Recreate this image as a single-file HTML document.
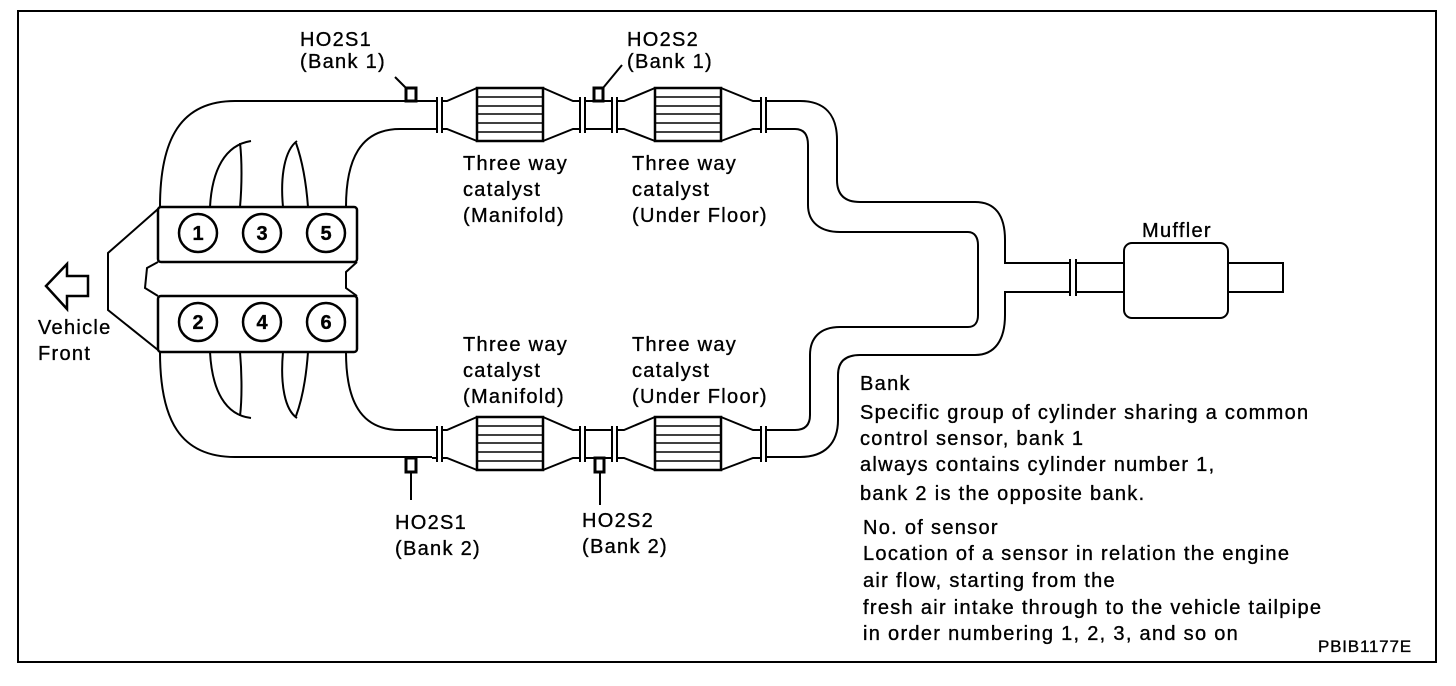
<!DOCTYPE html>
<html><head><meta charset="utf-8"><style>
html,body{margin:0;padding:0;background:#fff;}
svg{display:block;}
text{font-family:"Liberation Sans",Arial,sans-serif;font-size:20px;letter-spacing:1.3px;fill:#000;stroke:#000;stroke-width:0.35;}
.n{font-weight:bold;font-size:20px;letter-spacing:0;text-anchor:middle;}
</style></head><body>
<svg width="1456" height="686" viewBox="0 0 1456 686" xmlns="http://www.w3.org/2000/svg">
<rect x="18" y="11" width="1418" height="651" fill="none" stroke="#000" stroke-width="2"/>
<g fill="none" stroke="#000" stroke-width="2">
<path d="M160,207 C160,140 180,101 235,101 L432,101"/>
<path d="M346,207 C346,160 360,129 400,129 L432,129"/>
<path d="M160,352 C160,420 180,457 235,457 L432,457"/>
<path d="M346,352 C346,400 360,430 400,430 L432,430"/>
<path d="M210,207 C212,170 225,145 251,141"/>
<path d="M240,207 C242,185 242,160 240,143"/>
<path d="M283,207 C280,175 285,150 297,141"/>
<path d="M308,207 C306,180 302,160 296,143"/>
<path d="M210,352 C212,390 225,415 251,418"/>
<path d="M240,352 C242,375 242,400 240,416"/>
<path d="M283,352 C280,385 285,410 297,418"/>
<path d="M308,352 C306,380 302,400 296,416"/>
<path d="M158,209 L108,253 L108,310 L158,350" />
<rect x="158" y="207" width="199" height="55" rx="3" fill="#fff" stroke-width="2.5"/>
<rect x="158" y="296" width="199" height="56" rx="3" fill="#fff" stroke-width="2.5"/>
<path d="M158,262 L147,268 L145,288 L158,296" />
<path d="M357,262 L346,272 L346,288 L357,296" />
<g stroke-width="2.5">
<circle cx="198" cy="233" r="19"/><circle cx="262" cy="233" r="19"/><circle cx="326" cy="233" r="19"/>
<circle cx="198" cy="322" r="19"/><circle cx="262" cy="322" r="19"/><circle cx="326" cy="322" r="19"/>
</g>
<path d="M46,286 L67,264 L67,276 L88,276 L88,296 L67,296 L67,309 Z" stroke-width="2.5"/>
</g>
<text class="n" x="198" y="240">1</text><text class="n" x="262" y="240">3</text><text class="n" x="326" y="240">5</text>
<text class="n" x="198" y="329">2</text><text class="n" x="262" y="329">4</text><text class="n" x="326" y="329">6</text>
<g id="row" fill="none" stroke="#000" stroke-width="2">
<path d="M432,101 L437,101 M432,129 L437,129"/>
<path d="M437,97 L437,133 M442,97 L442,133"/>
<path d="M442,101 L447,101 L477,88 M442,129 L447,129 L477,141"/>
<rect x="477" y="88" width="66" height="53" stroke-width="2.5"/>
<path d="M477,97 H543 M477,106 H543 M477,114 H543 M477,123 H543 M477,132 H543" stroke-width="1.5"/>
<path d="M543,88 L573,101 L580,101 M543,141 L573,129 L580,129"/>
<path d="M580,97 L580,133 M585,97 L585,133"/>
<path d="M585,101 H612 M585,129 H612"/>
<path d="M612,97 L612,133 M617,97 L617,133"/>
<path d="M617,101 L624,101 L655,88 M617,129 L624,129 L655,141"/>
<rect x="655" y="88" width="66" height="53" stroke-width="2.5"/>
<path d="M655,97 H721 M655,106 H721 M655,114 H721 M655,123 H721 M655,132 H721" stroke-width="1.5"/>
<path d="M721,88 L753,101 L761,101 M721,141 L753,129 L761,129"/>
<path d="M761,97 L761,133 M766,97 L766,133"/>
</g>
<use href="#row" transform="translate(0,329)"/>
<g fill="none" stroke="#000" stroke-width="2">
<path d="M766,101 L800,101 C825,101 837,115 837,140 L837,180 C837,195 845,202 860,202 L975,202 C995,202 1005,215 1005,240 L1005,263 L1070,263"/>
<path d="M766,129 L795,129 C804,129 808,135 808,145 L808,205 C808,222 820,232 840,232 L968,232 C975,232 978,238 978,245 L978,315 C978,322 975,327 968,327 L840,327 C820,327 810,338 810,355 L810,415 C810,425 805,430 795,430 L766,430"/>
<path d="M766,457 L800,457 C825,457 838,443 838,420 L838,375 C838,362 845,355 860,355 L975,355 C995,355 1005,340 1005,315 L1005,292 L1070,292"/>
<path d="M1070,259 L1070,296 M1076,259 L1076,296"/>
<path d="M1076,263 H1124 M1076,292 H1124"/>
<rect x="1124" y="243" width="104" height="75" rx="8"/>
<path d="M1228,263 H1283 V292 H1228"/>
<rect x="406" y="88" width="10" height="13" stroke-width="3"/>
<path d="M406,88 L395,77"/>
<rect x="594" y="88" width="9" height="13" stroke-width="3"/>
<path d="M603,88 L622,65"/>
<rect x="406" y="458" width="10" height="14" stroke-width="3"/>
<path d="M411,472 L411,500"/>
<rect x="595" y="458" width="9" height="14" stroke-width="3"/>
<path d="M600,472 L600,505"/>
</g>
<text x="300" y="46">HO2S1</text><text x="300" y="68">(Bank 1)</text>
<text x="627" y="46">HO2S2</text><text x="627" y="68">(Bank 1)</text>
<text x="463" y="170">Three way</text><text x="463" y="196">catalyst</text><text x="463" y="222">(Manifold)</text>
<text x="632" y="170">Three way</text><text x="632" y="196">catalyst</text><text x="632" y="222">(Under Floor)</text>
<text x="463" y="351">Three way</text><text x="463" y="377">catalyst</text><text x="463" y="403">(Manifold)</text>
<text x="632" y="351">Three way</text><text x="632" y="377">catalyst</text><text x="632" y="403">(Under Floor)</text>
<text x="395" y="529">HO2S1</text><text x="395" y="555">(Bank 2)</text>
<text x="582" y="527">HO2S2</text><text x="582" y="553">(Bank 2)</text>
<text x="38" y="334">Vehicle</text><text x="38" y="360">Front</text>
<text x="1142" y="237">Muffler</text>
<text x="860" y="390">Bank</text>
<text x="860" y="419">Specific group of cylinder sharing a common</text>
<text x="860" y="445">control sensor, bank 1</text>
<text x="860" y="471">always contains cylinder number 1,</text>
<text x="860" y="500">bank 2 is the opposite bank.</text>
<text x="863" y="534">No. of sensor</text>
<text x="863" y="560">Location of a sensor in relation the engine</text>
<text x="863" y="587">air flow, starting from the</text>
<text x="863" y="614">fresh air intake through to the vehicle tailpipe</text>
<text x="863" y="640">in order numbering 1, 2, 3, and so on</text>
<text x="1318" y="652" style="font-size:17px;letter-spacing:0.8px">PBIB1177E</text>
</svg>
</body></html>
